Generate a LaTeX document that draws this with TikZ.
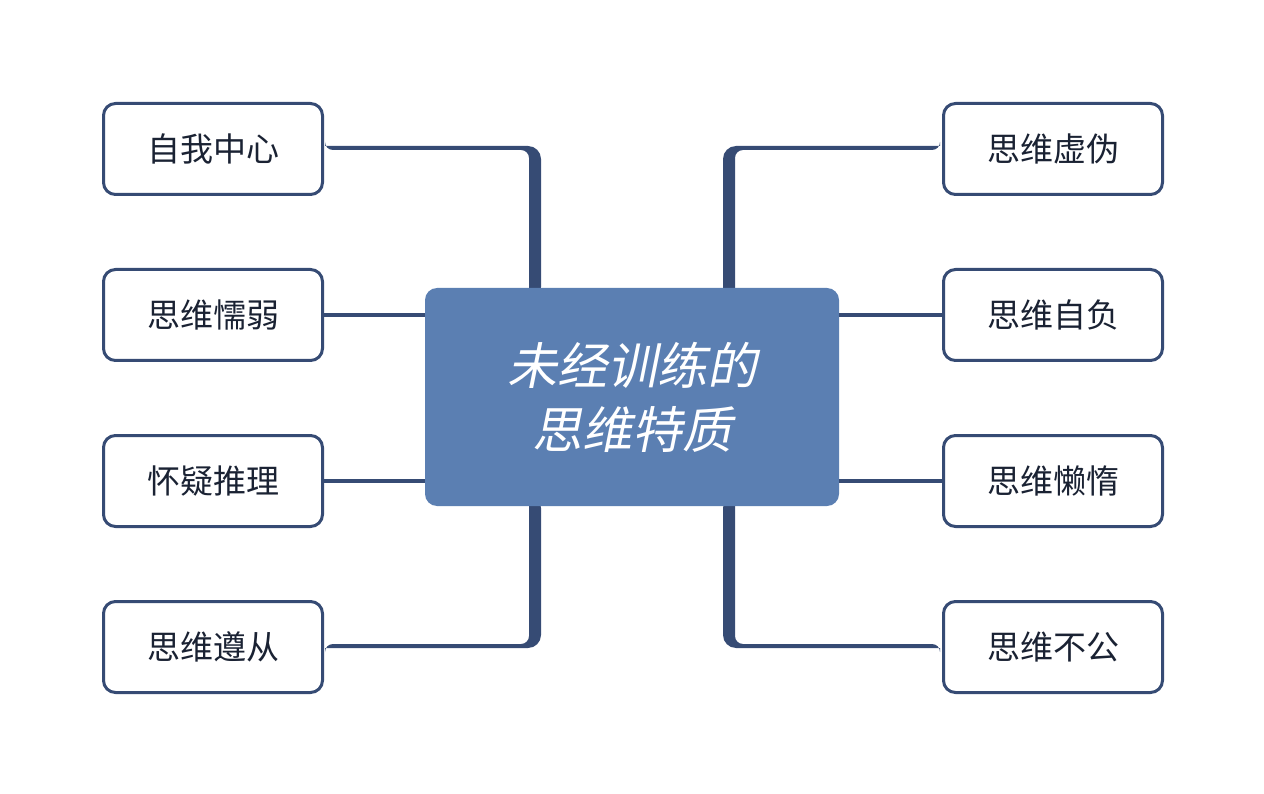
\documentclass[tikz,border=0pt]{standalone}
\usepackage{fontspec}
\newfontfamily\cjk{Noto Sans CJK SC}
\newfontfamily\cjkit[FakeSlant=0.2]{Noto Sans CJK SC}
\definecolor{navy}{HTML}{364B74}
\definecolor{mid}{HTML}{5B7FB2}
\definecolor{txt}{HTML}{1A2233}
\begin{document}
\begin{tikzpicture}[x=1pt,y=-1pt,
  leaf/.style={draw=navy,line width=3pt,rounded corners=12pt,minimum width=219pt,minimum height=91pt,fill=white,font=\cjk\fontsize{33}{36}\selectfont,text=txt},
  thin/.style={navy,line width=3.5pt}]
\useasboundingbox (0,0) rectangle (1264,794);
% thick branches
\fill[navy] (325,146) {[rounded corners=13pt]-- (541,146) -- (541,300)} -- (529,300) {[rounded corners=8pt]-- (529,150) -- (325,150)} -- cycle;
\fill[navy] (940,146) {[rounded corners=13pt]-- (723,146) -- (723,300)} -- (735,300) {[rounded corners=8pt]-- (735,150) -- (940,150)} -- cycle;
\fill[navy] (325,648) {[rounded corners=13pt]-- (541,648) -- (541,495)} -- (529,495) {[rounded corners=8pt]-- (529,644) -- (325,644)} -- cycle;
\fill[navy] (940,648) {[rounded corners=13pt]-- (723,648) -- (723,495)} -- (735,495) {[rounded corners=8pt]-- (735,644) -- (940,644)} -- cycle;
\node[fill=mid,rounded corners=12pt,minimum width=414pt,minimum height=218pt,inner sep=0] (c) at (632,397) {};
\node[text=white,font=\cjkit\fontsize{50}{64}\selectfont,align=center] (ct) at (632,397) {未经训练的\\思维特质};
\node[leaf] (l1) at (213,149) {自我中心};
\node[leaf] (l2) at (213,315) {思维懦弱};
\node[leaf] (l3) at (213,481) {怀疑推理};
\node[leaf] (l4) at (213,647) {思维遵从};
\node[leaf] (r1) at (1053,149) {思维虚伪};
\node[leaf] (r2) at (1053,315) {思维自负};
\node[leaf] (r3) at (1053,481) {思维懒惰};
\node[leaf] (r4) at (1053,647) {思维不公};
\draw[thin] (l2.east) -- (l2.east -| c.west);
\draw[thin] (l3.east) -- (l3.east -| c.west);
\draw[thin] (r2.west) -- (r2.west -| c.east);
\draw[thin] (r3.west) -- (r3.west -| c.east);
\end{tikzpicture}
\end{document}
